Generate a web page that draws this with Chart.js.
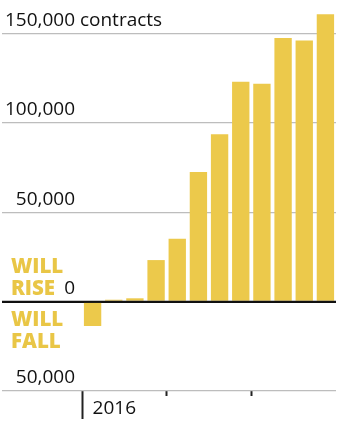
<!DOCTYPE html>
<html>
<head>
<meta charset="utf-8">
<script src="https://cdn.jsdelivr.net/npm/chart.js@4/dist/chart.umd.min.js"></script>
<style>
html,body{margin:0;padding:0;background:#fff;}
#wrap{width:355px;height:434px;}
</style>
</head>
<body>
<div id="wrap"><canvas id="c" width="355" height="434"></canvas></div>
<script>
// ---- data ----
const categories = ['Jan 2016','Feb 2016','Mar 2016','Apr 2016','May 2016','Jun 2016','Jul 2016','Aug 2016','Sep 2016','Oct 2016','Nov 2016','Dec 2016'];
const netContracts = [-13600, 1100, 1900, 23300, 35300, 72600, 93700, 123100, 122000, 147700, 146300, 161000];
const yTickValues = [-50000, 0, 50000, 100000, 150000];
const xTickLabels = ['2016'];
const unitLabel = 'contracts';
const riseLabel = ['WILL', 'RISE'];
const fallLabel = ['WILL', 'FALL'];

const FONT = '"Open Sans", sans-serif';
const YELLOW = '#ECC94B';
const LABEL_YELLOW = '#E9C646';

const overlay = {
  id: 'overlay',
  afterDatasetsDraw(chart) {
    const y = chart.scales.y;
    const ctx = chart.ctx;
    const p0 = y.getPixelForValue(0);
    ctx.save();
    ctx.strokeStyle = '#111';
    ctx.lineWidth = 2;
    ctx.beginPath();
    ctx.moveTo(y.left, p0);
    ctx.lineTo(chart.chartArea.right, p0);
    ctx.stroke();
    ctx.restore();
  },
  afterDraw(chart) {
    const y = chart.scales.y;
    const ctx = chart.ctx;
    ctx.save();
    // unit label after the top tick
    ctx.font = '19px ' + FONT;
    ctx.fillStyle = '#111';
    ctx.textBaseline = 'middle';
    ctx.textAlign = 'left';
    const top = yTickValues[yTickValues.length - 1];
    const sp = ctx.measureText(' ').width;
    ctx.fillText(unitLabel, 75 + sp, y.getPixelForValue(top) - 13);
    // rise / fall labels
    const p0 = y.getPixelForValue(0);
    ctx.font = '800 20.5px ' + FONT;
    ctx.fillStyle = LABEL_YELLOW;
    ctx.textBaseline = 'alphabetic';
    ctx.fillText(riseLabel[0], 11, p0 - 29);
    ctx.fillText(riseLabel[1], 11, p0 - 7);
    ctx.fillText(fallLabel[0], 11, p0 + 24);
    ctx.fillText(fallLabel[1], 11, p0 + 46);
    ctx.restore();
  }
};

new Chart(document.getElementById('c'), {
  type: 'bar',
  data: {
    labels: categories,
    datasets: [{
      data: netContracts,
      backgroundColor: YELLOW,
      borderWidth: 0,
      categoryPercentage: 1,
      barPercentage: 0.82
    }]
  },
  options: {
    responsive: false,
    animation: false,
    events: [],
    layout: { padding: { left: 2, right: 19, top: 7, bottom: 0 } },
    plugins: { legend: { display: false }, tooltip: { enabled: false } },
    scales: {
      x: {
        type: 'category',
        offset: true,
        border: { display: false },
        afterFit(s) { s.height = 43; },
        grid: {
          offset: true,
          drawOnChartArea: false,
          tickLength: 28,
          tickWidth: 2,
          tickColor: c => (c.index % 4 === 0 && c.index < categories.length) ? '#222' : 'rgba(0,0,0,0)',
          tickBorderDash: c => c.index === 0 ? [] : [5, 100]
        },
        ticks: {
          autoSkip: false,
          maxRotation: 0,
          align: 'start',
          padding: -22,
          color: '#111',
          font: { family: FONT, size: 19 },
          callback: (v, i) => xTickLabels[i] || ''
        }
      },
      y: {
        min: -50000,
        max: 165000,
        border: { display: false },
        afterFit(s) { s.width = 80; },
        afterBuildTicks(s) { s.ticks = yTickValues.map(v => ({ value: v })); },
        grid: {
          drawOnChartArea: true,
          tickLength: 80,
          color: c => c.tick && c.tick.value === 0 ? '#111' : '#bdbdbd',
          tickColor: c => c.tick && c.tick.value === 0 ? '#111' : '#bdbdbd',
          lineWidth: c => c.tick && c.tick.value === 0 ? 2 : 1.3,
          tickWidth: c => c.tick && c.tick.value === 0 ? 2 : 1.3
        },
        ticks: {
          crossAlign: 'near',
          padding: -73,
          labelOffset: -13,
          color: '#111',
          font: { family: FONT, size: 19 },
          callback: v => Math.abs(v).toLocaleString('en-US')
        }
      }
    }
  },
  plugins: [overlay]
});
</script>
</body>
</html>
